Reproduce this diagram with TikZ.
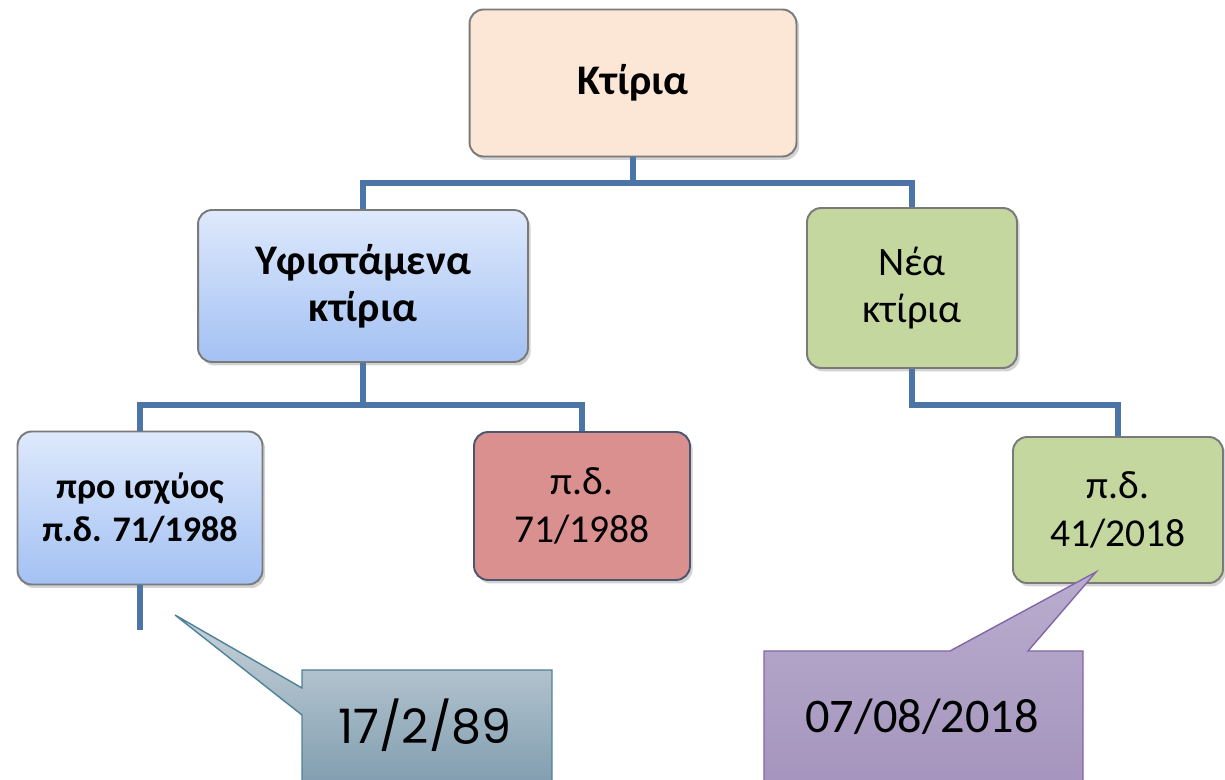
\documentclass[tikz,border=0pt]{standalone}
\usepackage{fontspec}
\setmainfont{Carlito}
\newfontfamily\datefont{Poppins}
\usetikzlibrary{positioning,shadows}
\definecolor{peach}{HTML}{FCE6D6}
\definecolor{skytop}{HTML}{DEE9FC}
\definecolor{skybot}{HTML}{A3C1F3}
\definecolor{leaf}{HTML}{C4D79E}
\definecolor{rose}{HTML}{D9908F}
\definecolor{edge}{HTML}{7A7A7A}
\definecolor{slate}{HTML}{4B5772}
\definecolor{linkblue}{HTML}{4A75A6}
\definecolor{tealtop}{HTML}{C8D3DB}
\definecolor{tealbot}{HTML}{7E9CAE}
\definecolor{tealedge}{HTML}{4F8296}
\definecolor{lilactop}{HTML}{B8ADCE}
\definecolor{lilacbot}{HTML}{A594BD}
\definecolor{lilacedge}{HTML}{8466A8}
\tikzset{
 box/.style={draw=edge,line width=1.1pt,rounded corners=8pt,align=center,
  drop shadow={opacity=.35,shadow xshift=1.5pt,shadow yshift=-2pt}},
 conn/.style={linkblue,line width=3.4pt},
 big/.style={font=\fontsize{23}{27}\selectfont},
 bigbold/.style={font=\fontsize{24}{27}\selectfont\bfseries},
 small/.style={font=\fontsize{20.5}{24}\selectfont\bfseries},
 law/.style={font=\fontsize{22.5}{27}\selectfont}
}

\begin{document}
\begin{tikzpicture}[x=0.02cm,y=-0.02cm]
\useasboundingbox (0,0) rectangle (1225,780);
\clip (0,0) rectangle (1225,780);
% boxes of the tree
\node[box,bigbold,fill=peach,minimum width=6.54cm,minimum height=2.94cm] (root) at (633,83) {Κτίρια};
\node[box,bigbold,top color=skytop,bottom color=skybot,minimum width=6.6cm,minimum height=3.04cm] (old) at (363,286) {Υφιστάμενα\\κτίρια};
\node[box,big,fill=leaf,minimum width=4.2cm,minimum height=3.2cm] (new) at (912,288) {Νέα\\κτίρια};
\node[box,small,top color=skytop,bottom color=skybot,minimum width=4.9cm,minimum height=3.06cm] (pre) at (140,508) {προ ισχύος\\π.δ. 71/1988};
\node[box,law,fill=rose,draw=slate,minimum width=4.32cm,minimum height=2.96cm] (pd71) at (582,506) {π.δ.\\71/1988};
\node[box,law,fill=leaf,minimum width=4.2cm,minimum height=2.92cm] (pd41) at (1118,510) {π.δ.\\41/2018};
% connectors
\coordinate (busA) at (633,183);
\coordinate (busB) at (363,405);
\coordinate (busC) at (912,405);
\coordinate (tail) at (140,630);
\draw[conn] (root.south) -- (busA);
\draw[conn] (old.north) |- (busA) -| (new.north);
\draw[conn] (old.south) -- (busB);
\draw[conn] (pre.north) |- (busB) -| (pd71.north);
\draw[conn] (new.south) -- (busC) -| (pd41.north);
\draw[conn] (pre.south) -- (tail);
% callouts
\coordinate (tipA) at (175,615);
\coordinate (tipB) at (1096,572);
\path[draw=tealedge,line width=.8pt,top color=tealtop,bottom color=tealbot]
 (302,670) -- (552,670) -- (552,790) -- (302,790) -- (302,715) -- (tipA) -- (302,688) -- cycle;
\node[font=\datefont\fontsize{27}{32}\selectfont] (dateA) at (425,725) {17/2/89};
\path[draw=lilacedge,line width=.8pt,top color=lilactop,bottom color=lilacbot]
 (764,651) -- (950,651) -- (tipB) -- (1028,651) -- (1083,651) -- (1083,790) -- (764,790) -- cycle;
\node[font=\fontsize{27.5}{32}\selectfont] (dateB) at (922,717) {07/08/2018};
\end{tikzpicture}
\end{document}
